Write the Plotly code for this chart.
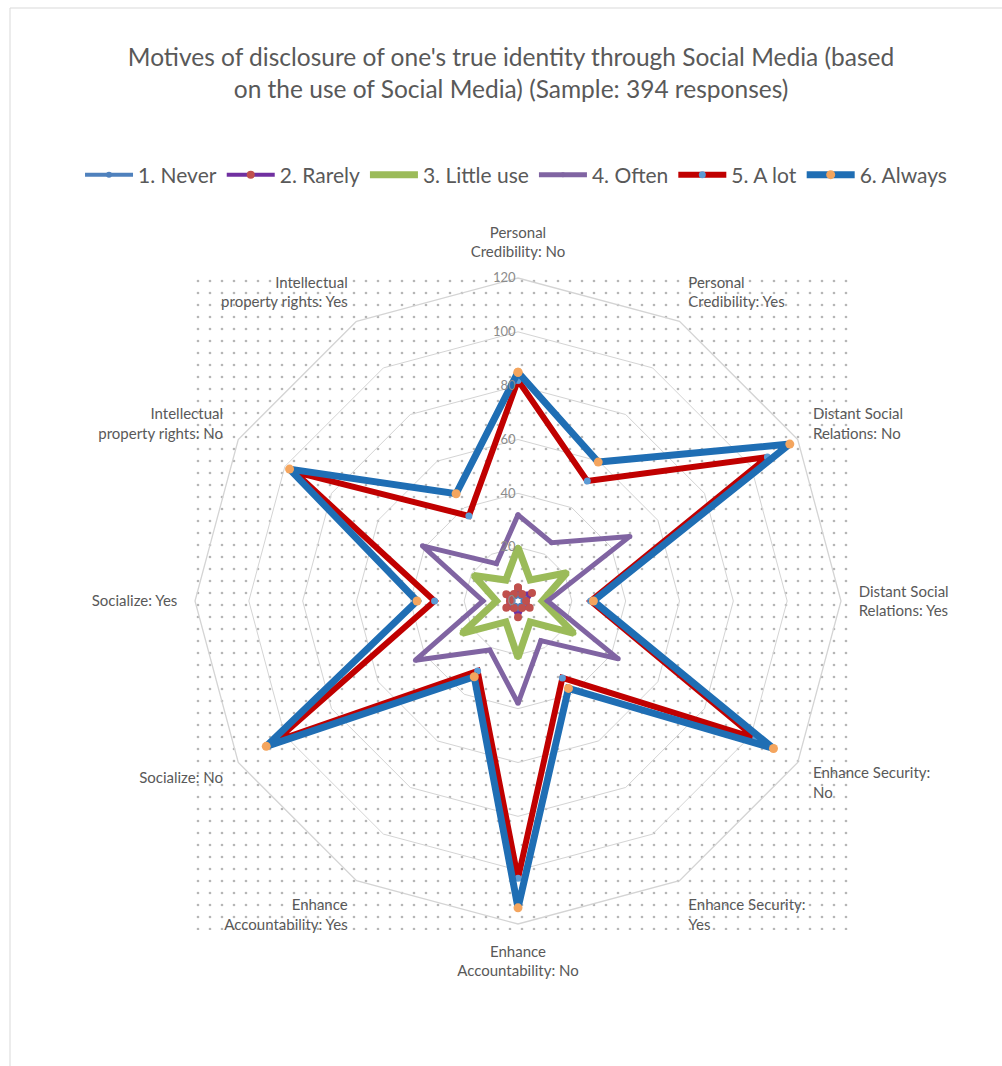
import plotly.graph_objects as go

categories = ["Personal<br>Credibility: No", "Personal<br>Credibility: Yes",
              "Distant Social<br>Relations: No", "Distant Social<br>Relations: Yes",
              "Enhance Security:<br>No", "Enhance Security:<br>Yes",
              "Enhance<br>Accountability: No", "Enhance<br>Accountability: Yes",
              "Socialize: No", "Socialize: Yes",
              "Intellectual<br>property rights: No", "Intellectual<br>property rights: Yes"]

never = [3, 2, 4, 2, 3, 2, 4, 2, 3, 2, 3, 2]
rarely = [5, 3, 6, 3, 5, 3, 6, 3, 5, 3, 5, 3]
little_use = [20, 9, 21, 9, 24, 9, 21, 9, 24, 8, 19, 9]
often = [32, 25, 48, 11, 43, 17, 38, 21, 44, 13, 41, 16]
a_lot = [82, 51.5, 107, 27, 102, 33, 103, 30, 104, 31, 96, 36.5]
always = [85, 59.6, 116.6, 28, 109.6, 37.5, 114, 32.5, 108, 37.5, 98, 46]

radial_ticks = [0, 20, 40, 60, 80, 100, 120]

series = [
    ("1. Never", never, "#4F81BD", 4, "#4F81BD", 6),
    ("2. Rarely", rarely, "#7030A0", 4, "#C0504D", 8),
    ("3. Little use", little_use, "#9BBB59", 7, "#9BBB59", 5),
    ("4. Often", often, "#8064A2", 5, "#8064A2", 5),
    ("5. A lot", a_lot, "#C00000", 6, "#5B9BD5", 7),
    ("6. Always", always, "#1F6EB4", 7, "#F4A55E", 9),
]

fig = go.Figure()

# dotted plot-area background
fig.add_trace(go.Bar(x=[0.5], y=[1], width=[1], xaxis="x", yaxis="y",
                     marker=dict(color="white", line=dict(width=0),
                                 pattern=dict(shape=".", fgcolor="#6E6E6E", bgcolor="white",
                                              size=12, solidity=0.04)),
                     showlegend=False, hoverinfo="skip"))

for name, vals, lc, lw, mc, ms in series:
    fig.add_trace(go.Scatterpolar(
        r=vals + vals[:1], theta=categories + categories[:1], name=name,
        mode="lines+markers",
        line=dict(color=lc, width=lw),
        marker=dict(color=mc, size=ms),
    ))

fig.update_layout(
    width=1002, height=1066,
    margin=dict(l=0, r=0, t=0, b=0),
    paper_bgcolor="white",
    font=dict(family="Lato", color="#595959"),
    title=dict(text="Motives of disclosure of one's true identity through Social Media (based<br>on the use of Social Media) (Sample: 394 responses)",
               x=0.51, xanchor="center", y=1 - 66 / 1066, yanchor="middle",
               font=dict(size=24.5, color="#595959", family="Lato")),
    legend=dict(orientation="h", x=0.515, xanchor="center", y=1 - 175 / 1066, yanchor="middle",
                font=dict(size=21, color="#595959"), itemwidth=48),
    xaxis=dict(domain=[192 / 1002, 848 / 1002], range=[0, 1], visible=False, fixedrange=True),
    yaxis=dict(domain=[1 - 930 / 1066, 1 - 275 / 1066], range=[0, 1], visible=False, fixedrange=True),
    polar=dict(
        domain=dict(x=[195 / 1002, 841 / 1002], y=[1 - 924 / 1066, 1 - 278 / 1066]),
        bgcolor="rgba(0,0,0,0)",
        gridshape="linear",
        radialaxis=dict(range=[0, 120], tickvals=radial_ticks, angle=90, tickangle=90,
                        side="counterclockwise", showline=False, ticks="",
                        gridcolor="#D4D4D4", gridwidth=1.3,
                        tickfont=dict(size=13, color="#8C8C8C")),
        angularaxis=dict(rotation=90, direction="clockwise", showgrid=False,
                         showline=True, linecolor="#D4D4D4", linewidth=1.3,
                         ticks="outside", ticklen=14, tickcolor="rgba(0,0,0,0)",
                         tickfont=dict(size=15, color="#595959")),
    ),
    shapes=[dict(type="rect", xref="paper", yref="paper", x0=10 / 1002, x1=1.2, y0=-0.2,
                 y1=1 - 8 / 1066, line=dict(color="#D9D9D9", width=1), layer="below")],
    barmode="overlay",
)

fig.write_html("out.html", config={"displayModeBar": False},
               post_script="document.body.style.margin='0';")
